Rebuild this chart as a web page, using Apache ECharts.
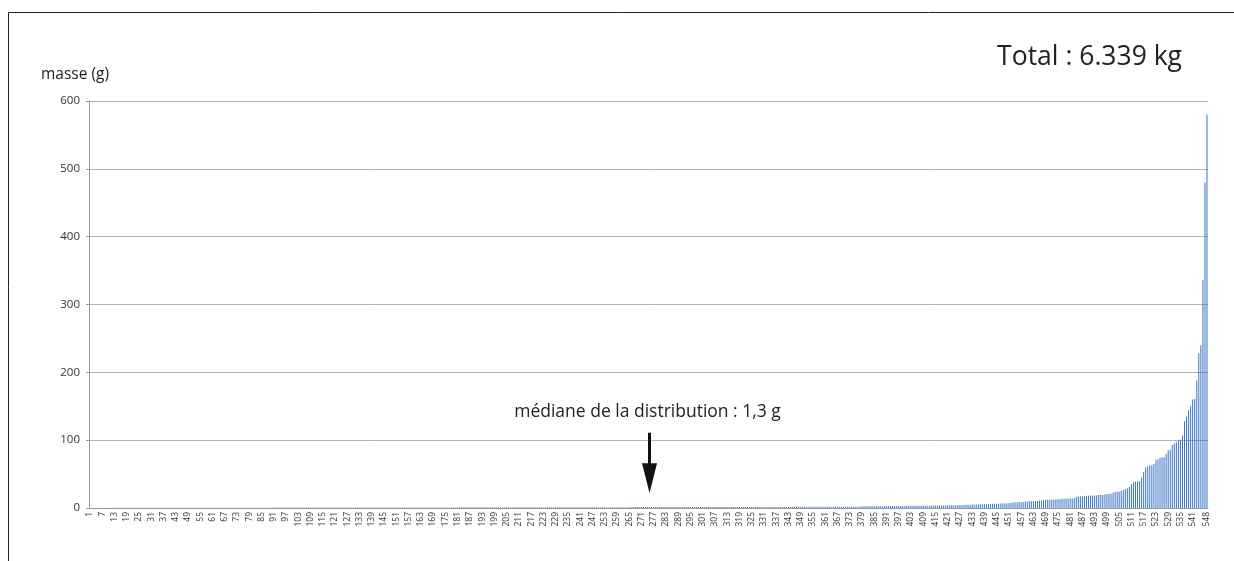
<!DOCTYPE html>
<html><head><meta charset="utf-8">
<script src="https://cdn.jsdelivr.net/npm/echarts@6/dist/echarts.min.js"></script>
<style>html,body{margin:0;padding:0;background:#fff}#c{width:1234px;height:561px}</style>
</head><body><div id="c"></div>
<script>
// Masses (g), sorted ascending, items 1..378 (tiny pieces)
const massSmall = [
0.1,0.1,0.1,0.1,0.1,0.1,0.1,0.1,0.1,0.1,
0.2,0.2,0.2,0.2,0.2,0.2,0.2,0.2,0.2,0.2,
0.2,0.2,0.2,0.2,0.2,0.2,0.2,0.2,0.2,0.2,
0.3,0.3,0.3,0.3,0.3,0.3,0.3,0.3,0.3,0.3,
0.3,0.3,0.3,0.3,0.3,0.3,0.3,0.3,0.3,0.3,
0.4,0.4,0.4,0.4,0.4,0.4,0.4,0.4,0.4,0.4,
0.4,0.4,0.4,0.4,0.4,0.4,0.4,0.4,0.4,0.4,
0.5,0.5,0.5,0.5,0.5,0.5,0.5,0.5,0.5,0.5,
0.5,0.5,0.5,0.5,0.5,0.5,0.5,0.5,0.5,0.5,
0.6,0.6,0.6,0.6,0.6,0.6,0.6,0.6,0.6,0.6,
0.6,0.6,0.6,0.6,0.6,0.6,0.6,0.6,0.6,0.6,
0.7,0.7,0.7,0.7,0.7,0.7,0.7,0.7,0.7,0.7,
0.7,0.7,0.7,0.7,0.7,0.7,0.7,0.7,0.7,0.7,
0.8,0.8,0.8,0.8,0.8,0.8,0.8,0.8,0.8,0.8,
0.8,0.8,0.8,0.8,0.8,0.8,0.8,0.8,0.8,0.8,
0.8,0.8,0.8,0.8,0.8,0.9,0.9,0.9,0.9,0.9,
0.9,0.9,0.9,0.9,0.9,0.9,0.9,0.9,0.9,0.9,
0.9,0.9,0.9,0.9,0.9,0.9,0.9,0.9,0.9,0.9,
1.0,1.0,1.0,1.0,1.0,1.0,1.0,1.0,1.0,1.0,
1.0,1.0,1.0,1.0,1.0,1.0,1.0,1.0,1.0,1.0,
1.0,1.0,1.0,1.0,1.0,1.0,1.0,1.0,1.0,1.0,
1.1,1.1,1.1,1.1,1.1,1.1,1.1,1.1,1.1,1.1,
1.1,1.1,1.1,1.1,1.1,1.1,1.1,1.1,1.1,1.1,
1.1,1.1,1.1,1.1,1.1,1.1,1.1,1.1,1.1,1.1,
1.2,1.2,1.2,1.2,1.2,1.2,1.2,1.2,1.2,1.2,
1.2,1.2,1.2,1.2,1.2,1.2,1.2,1.2,1.2,1.2,
1.2,1.2,1.2,1.2,1.2,1.3,1.3,1.3,1.3,1.3,
1.3,1.3,1.3,1.3,1.3,1.3,1.3,1.3,1.3,1.3,
1.3,1.3,1.3,1.3,1.3,1.3,1.3,1.3,1.3,1.3,
1.4,1.4,1.4,1.4,1.4,1.4,1.4,1.4,1.4,1.4,
1.4,1.4,1.4,1.4,1.4,1.4,1.4,1.4,1.4,1.4,
1.5,1.5,1.5,1.5,1.5,1.5,1.5,1.5,1.5,1.5,
1.5,1.5,1.5,1.5,1.5,1.5,1.5,1.5,1.5,1.5,
1.6,1.6,1.6,1.6,1.6,1.6,1.6,1.6,1.6,1.6,
1.6,1.6,1.6,1.6,1.6,1.7,1.7,1.7,1.7,1.7,
1.7,1.7,1.7,1.7,1.7,1.7,1.7,1.7,1.8,1.8,
1.8,1.8,1.8,1.8,1.8,1.8,1.8,1.8,1.9,1.9,
1.9,1.9,1.9,1.9,1.9,1.9,1.9,1.9
];
// items 379..450
const massMid = [
2.4,2.4,2.5,2.5,2.5,2.6,2.6,2.6,2.7,2.7,
2.7,2.8,2.8,2.9,2.9,2.9,3.0,3.0,3.0,3.1,
3.1,3.1,3.2,3.2,3.2,3.3,3.3,3.3,3.4,3.4,
3.4,3.5,3.5,3.5,3.5,3.6,3.6,3.6,3.6,3.7,
3.7,3.8,
3.9,4.0,4.0,4.1,4.2,4.3,4.4,4.5,4.6,4.7,
4.8,4.9,5.0,5.1,5.2,5.3,5.4,5.5,5.6,5.7,
5.8,5.9,6.0,6.1,6.2,6.3,6.5,6.6,6.8,7.0
];
// items 451..510
const massUpper = [
7,7.5,8,8.5,8.5,9,9,9,9.5,9.5,
10,10,10,10.5,10.5,11,11,11.5,12,12,
12,12.5,12.5,13,13,13,13.5,13.5,13.5,14,
14,14,14.5,16.5,17,17.5,17.5,17.5,18,18,
18,18.5,18.5,18.5,19,19,19,20,20.5,21,
21,22.5,23.5,24,24,25,27,28,29,31
];
// items 511..548 (largest pieces)
const massLarge = [
35,38,39,39,39.5,45,53,60,61.5,62.5,
63,65,71,72,74,75,75,80,85,86,
93,95.5,97,99.5,100.5,107,128,135,144,150,
160,161,188,228,240,336,480,580
];
const masses = massSmall.concat(massMid, massUpper, massLarge);
const categories = masses.map((v, i) => String(i + 1));
const yTicks = { min: 0, max: 600, step: 100 };
const medianIndex = 274;
const titleText = 'Total : 6.339 kg';
const yName = 'masse (g)';
const medianText = 'médiane de la distribution : 1,3 g';

const FONT = '"Open Sans", "Noto Sans", sans-serif';
const chart = echarts.init(document.getElementById('c'), null, { renderer: 'canvas' });

const option = {
  animation: false,
  backgroundColor: '#fff',
  grid: { left: 89, right: 26, top: 101, bottom: 53, containLabel: false },
  xAxis: {
    type: 'category',
    data: categories,
    axisLine: { lineStyle: { color: '#999', width: 1 } },
    axisTick: { interval: 0, length: 3, lineStyle: { color: '#aaa' } },
    axisLabel: {
      interval: (idx) => (idx % 6 === 0 && idx < categories.length - 2) || idx === categories.length - 1,
      rotate: 90, fontSize: 8.5, color: '#333', margin: 4, fontFamily: FONT
    },
    splitLine: { show: false }
  },
  yAxis: {
    type: 'value',
    min: yTicks.min, max: yTicks.max, interval: yTicks.step,
    axisLine: { show: true, lineStyle: { color: '#999' } },
    axisTick: { show: true, length: 3, lineStyle: { color: '#999' } },
    axisLabel: { fontSize: 11.5, color: '#333', margin: 9, fontFamily: FONT },
    splitLine: { lineStyle: { color: '#b3b3b3', width: 1 } }
  },
  series: [{
    type: 'bar',
    data: masses,
    barWidth: 1,
    itemStyle: { color: '#3a74c4' },
    silent: true
  }]
};
chart.setOption(option);

const tip = chart.convertToPixel({ xAxisIndex: 0, yAxisIndex: 0 }, [medianIndex, 22]);
const headBase = chart.convertToPixel({ xAxisIndex: 0, yAxisIndex: 0 }, [medianIndex, 66]);
const shaftTop = chart.convertToPixel({ xAxisIndex: 0, yAxisIndex: 0 }, [medianIndex, 111]);
const textPos = chart.convertToPixel({ xAxisIndex: 0, yAxisIndex: 0 }, [medianIndex, 142]);
const ax = tip[0];

chart.setOption({
  graphic: [
    { type: 'rect', shape: { x: 8.5, y: 12.5, width: 1400, height: 700 },
      style: { fill: 'none', stroke: '#222', lineWidth: 1 }, silent: true },
    { type: 'text', x: 1182, y: 57,
      style: { text: titleText, fontSize: 26.5, fontFamily: FONT, fill: '#222', align: 'right', verticalAlign: 'middle' } },
    { type: 'text', x: 41, y: 75,
      style: { text: yName, fontSize: 15.5, fontFamily: FONT, fill: '#222', align: 'left', verticalAlign: 'middle' } },
    { type: 'text', x: ax - 2, y: textPos[1],
      style: { text: medianText, fontSize: 17.5, fontFamily: FONT, fill: '#222', align: 'center', verticalAlign: 'middle' } },
    { type: 'rect', shape: { x: ax - 1.5, y: shaftTop[1], width: 3, height: headBase[1] - shaftTop[1] + 1 },
      style: { fill: '#111' } },
    { type: 'polygon', shape: { points: [[ax - 7.5, headBase[1]], [ax + 7.5, headBase[1]], [ax, tip[1]]] },
      style: { fill: '#111' } }
  ]
});
</script>
</body></html>
